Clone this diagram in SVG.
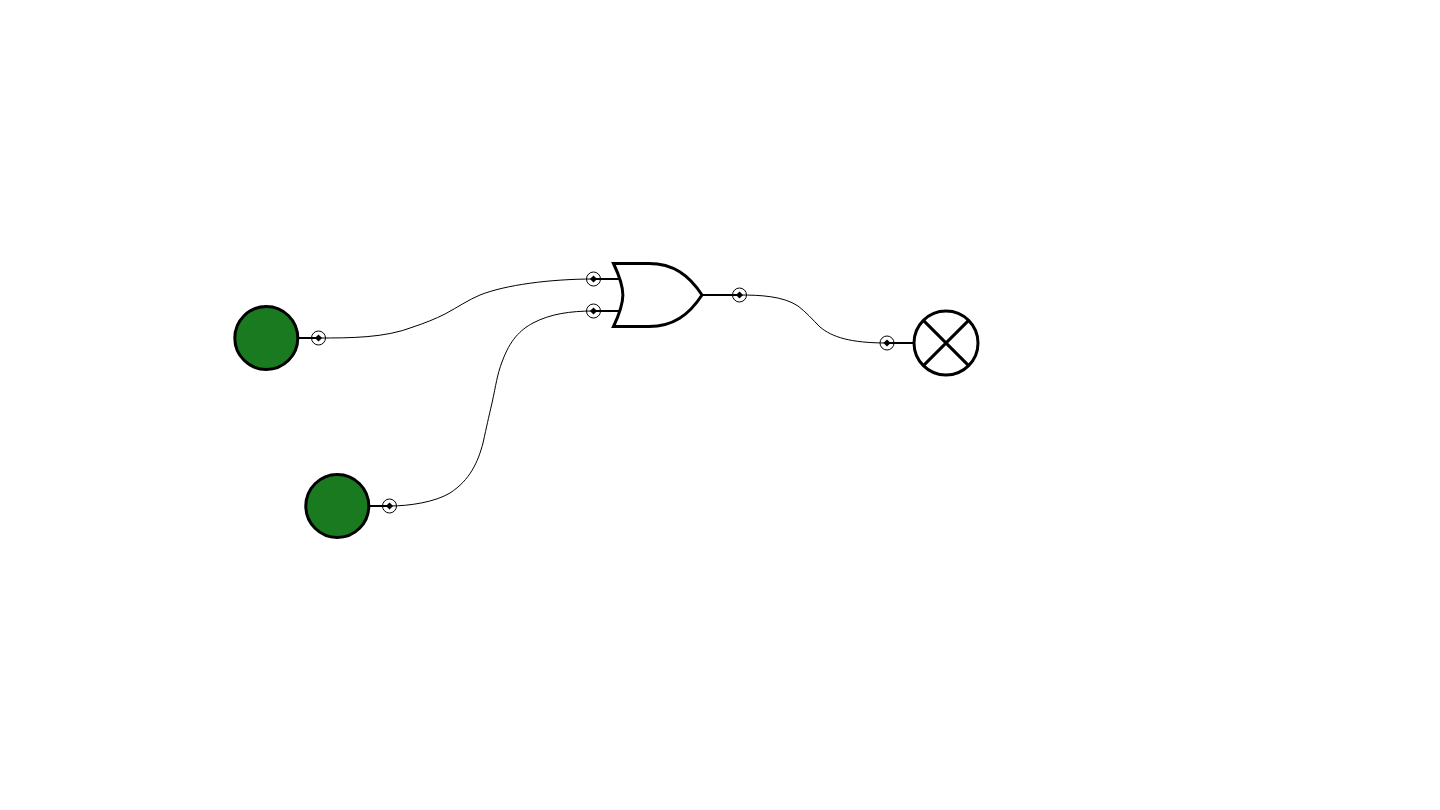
<svg xmlns="http://www.w3.org/2000/svg" width="1440" height="810" viewBox="0 0 1440 810">
<style>
.sym{stroke:#000;stroke-width:3;fill:#fff;stroke-linejoin:miter}
.lead{stroke:#000;stroke-width:2;fill:none}
.wire{stroke:#000;stroke-width:1;fill:none}
.ring{stroke:#000;stroke-width:1;fill:none}
.dot{fill:#000}
.on{fill:#1a7a1f}
</style>
<defs>
<g id="pin"><circle class="ring" r="7"/><path class="dot" d="M0 -3.600L3.600 0L0 3.600L-3.600 0Z"/></g>
</defs>
<rect width="1440" height="810" fill="#fff"/>
<g id="connectors">
<path class="wire" d="M318.500 338C350 338 385 338 413 327C425 323 435 319 445 314C458 307 468 300 480 295C505 285 550 279 593.500 279"/>
<path class="wire" d="M389.500 506C410 506 435 502 450 493C470 480 478 462 483 443C487 425 488 420 492 403C496 385 497 375 502 362C510 340 520 330 533 323C550 314 570 311 593.500 311"/>
<path class="wire" d="M739.500 295C760 295 783 296 798 306C806 312 812 319 820 327C832 337 850 343 887 343"/>
</g>
<g id="input-a">
<path class="lead" d="M298 338H318.500"/>
<circle class="sym on" cx="266.300" cy="338" r="31.500"/>
<use href="#pin" x="318.500" y="338"/>
</g>
<g id="input-b">
<path class="lead" d="M369 506H389.500"/>
<circle class="sym on" cx="337.300" cy="506" r="31.500"/>
<use href="#pin" x="389.500" y="506"/>
</g>
<g id="or-gate">
<path class="lead" d="M593.500 279H621M593.500 311H621M702 295H739.500"/>
<path class="sym" d="M613.500 263.500H649C673 263.500 689 275 702 295C689 315 673 326.500 649 326.500H613.500C626 300 626 290 613.500 263.500Z"/>
<use href="#pin" x="593.500" y="279"/>
<use href="#pin" x="593.500" y="311"/>
<use href="#pin" x="739.500" y="295"/>
</g>
<g id="lamp">
<path class="lead" d="M887 343H914"/>
<circle class="sym" cx="946" cy="343" r="32"/>
<path class="lead" style="stroke-width:3" d="M923.400 320.400L968.600 365.600M923.400 365.600L968.600 320.400"/>
<use href="#pin" x="887" y="343"/>
</g>
</svg>
